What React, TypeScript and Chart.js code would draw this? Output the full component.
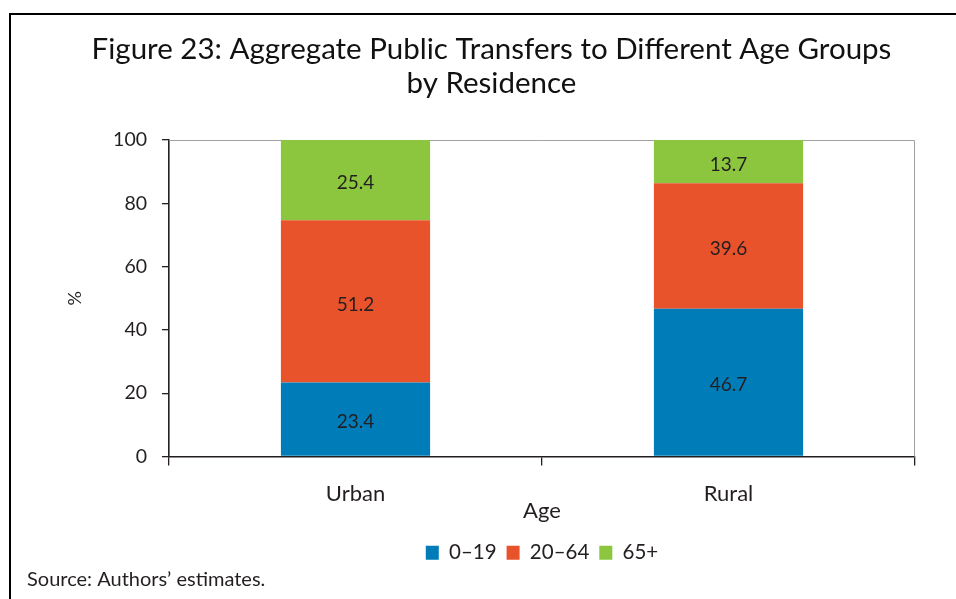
import React, { useEffect, useRef } from "react";
import { Chart, registerables } from "chart.js";

Chart.register(...registerables);

const categories = ["Urban", "Rural"];
const seriesNames = ["0–19", "20–64", "65+"];
const age0to19 = [23.4, 46.7];
const age20to64 = [51.2, 39.6];
const age65plus = [25.4, 13.7];
const yTicks = [0, 20, 40, 60, 80, 100];

const FONT = "Lato, 'DejaVu Sans', sans-serif";
const TXT = "#231f20";

const framePlugin = {
  id: "frame",
  beforeDraw(chart: any) {
    const { ctx, width, height } = chart;
    ctx.save();
    ctx.fillStyle = "#ffffff";
    ctx.fillRect(0, 0, width, height);
    ctx.strokeStyle = "#000000";
    ctx.lineWidth = 2;
    ctx.beginPath();
    ctx.moveTo(10, height);
    ctx.lineTo(10, 14);
    ctx.lineTo(width, 14);
    ctx.stroke();
    ctx.restore();
  },
  beforeDatasetsDraw(chart: any) {
    const { ctx, chartArea } = chart;
    ctx.save();
    ctx.strokeStyle = "#a0a0a0";
    ctx.lineWidth = 1;
    ctx.beginPath();
    ctx.moveTo(chartArea.left, chartArea.top + 0.5);
    ctx.lineTo(chartArea.right - 0.5, chartArea.top + 0.5);
    ctx.lineTo(chartArea.right - 0.5, chartArea.bottom);
    ctx.stroke();
    ctx.restore();
  },
  afterDatasetsDraw(chart: any) {
    const { ctx } = chart;
    ctx.save();
    ctx.font = `19px ${FONT}`;
    ctx.fillStyle = TXT;
    ctx.textAlign = "center";
    ctx.textBaseline = "middle";
    chart.data.datasets.forEach((ds: any, i: number) => {
      const meta = chart.getDatasetMeta(i);
      meta.data.forEach((el: any, j: number) => {
        const v = ds.data[j];
        const y = (el.y + el.base) / 2 + 3;
        ctx.fillText(Number(v).toFixed(1), el.x, y);
      });
    });
    ctx.restore();
  },
};

export default function App() {
  const ref = useRef<HTMLCanvasElement | null>(null);
  useEffect(() => {
    if (!ref.current) return;
    const chart = new Chart(ref.current, {
      type: "bar",
      data: {
        labels: categories,
        datasets: [
          { label: seriesNames[0], data: age0to19, backgroundColor: "#007db8" },
          { label: seriesNames[1], data: age20to64, backgroundColor: "#e9532c" },
          { label: seriesNames[2], data: age65plus, backgroundColor: "#8cc63f" },
        ],
      },
      options: {
        animation: false,
        responsive: false,
        layout: { padding: { left: 27, right: 0, top: 0, bottom: 0 } },
        datasets: {
          bar: { categoryPercentage: 0.4, barPercentage: 1, borderWidth: 0 },
        },
        plugins: {
          title: {
            display: true,
            text: [
              "Figure 23: Aggregate Public Transfers to Different Age Groups",
              "by Residence",
            ],
            color: "#111111",
            font: { family: FONT, size: 29.5, weight: "normal", lineHeight: 1.13 },
            padding: { top: 33, bottom: 40.3 },
          },
          subtitle: {
            display: true,
            position: "bottom",
            align: "start",
            text: "Source: Authors’ estimates.",
            color: TXT,
            font: { family: FONT, size: 20, weight: "normal", lineHeight: 1 },
            padding: { top: -3, bottom: 9 },
          },
          legend: {
            display: true,
            position: "bottom",
            fullSize: false,
            labels: {
              boxWidth: 13,
              boxHeight: 14,
              padding: 10,
              color: TXT,
              font: { family: FONT, size: 20.5 },
            },
          },
          tooltip: { enabled: false },
        },
        scales: {
          x: {
            stacked: true,
            grid: {
              display: true,
              drawOnChartArea: false,
              drawTicks: true,
              tickLength: 9,
              color: TXT,
              lineWidth: 1.3,
              offset: true,
            },
            border: { display: true, color: TXT, width: 1.6 },
            ticks: { color: TXT, font: { family: FONT, size: 22 }, padding: 15 },
            title: {
              display: true,
              text: "Age",
              color: TXT,
              font: { family: FONT, size: 22 },
              padding: { top: 0, bottom: 8.8 },
            },
            afterFit: (s: any) => {
              s.height = 76;
            },
          },
          y: {
            stacked: true,
            min: 0,
            max: 100,
            grid: {
              display: true,
              drawOnChartArea: false,
              drawTicks: true,
              tickLength: 7,
              color: TXT,
              lineWidth: 1.3,
            },
            border: { display: true, color: TXT, width: 1.6 },
            afterBuildTicks: (s: any) => {
              s.ticks = yTicks.map((v) => ({ value: v }));
            },
            ticks: { color: TXT, font: { family: FONT, size: 19.5 }, padding: 15 },
            title: {
              display: true,
              text: "%",
              color: TXT,
              font: { family: FONT, size: 18 },
              padding: { top: 37, bottom: 0 },
            },
            afterFit: (s: any) => {
              s.width = 142;
            },
          },
          yRight: {
            type: "linear",
            position: "right",
            display: true,
            grid: { display: false, drawTicks: false },
            border: { display: false },
            ticks: { display: false },
            afterFit: (s: any) => {
              s.width = 41;
            },
          },
        },
      } as any,
      plugins: [framePlugin],
    });
    return () => chart.destroy();
  }, []);
  return (
    <div style={{ position: "absolute", left: 0, top: 0, width: 956, height: 599 }}>
      <canvas ref={ref} width={956} height={599} />
    </div>
  );
}
